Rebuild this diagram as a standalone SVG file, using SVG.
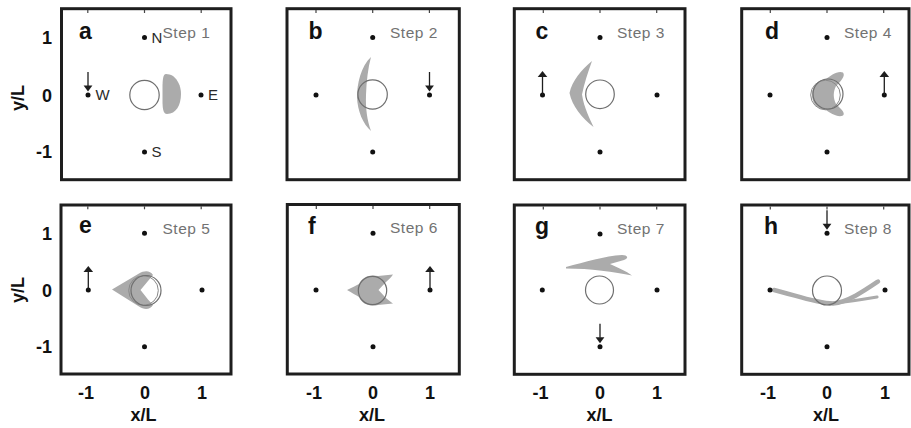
<svg xmlns="http://www.w3.org/2000/svg" width="911" height="428" viewBox="0 0 911 428">
  <style>
    .frame { fill: none; stroke: #1e1e1e; stroke-width: 3; }
    .tick { stroke: #444; stroke-width: 1.2; }
    .dot { fill: #111; }
    .body { fill: #ababab; stroke: none; }
    .band { fill: none; stroke: #ababab; stroke-linecap: round; }
    .ring { fill: none; stroke: #6f6f6f; stroke-width: 1.2; }
    .ring2 { fill: none; stroke: #8a8a8a; stroke-width: 1; }
    .stem { stroke: #1e1e1e; stroke-width: 1.3; }
    .head { fill: #1e1e1e; }
    .letter { font-family: "Liberation Sans", Arial, sans-serif; font-weight: bold; font-size: 23px; fill: #111; }
    .step { font-family: "Liberation Sans", Arial, sans-serif; font-size: 15.5px; letter-spacing: 0.5px; fill: #727272; }
    .compass { font-family: "Liberation Sans", Arial, sans-serif; font-size: 15px; fill: #2a2a2a; }
    .axis { font-family: "Liberation Sans", Arial, sans-serif; font-weight: bold; font-size: 18px; fill: #111; }
  </style>
  <defs>
    <!-- downward arrow landing on a point (origin = point) -->
    <g id="arrow-down">
      <line class="stem" x1="0" y1="-23" x2="0" y2="-9"/>
      <polygon class="head" points="-4.4,-9.5 4.4,-9.5 0,-3.5"/>
    </g>
    <!-- upward arrow leaving a point (origin = point) -->
    <g id="arrow-up">
      <line class="stem" x1="0" y1="0" x2="0" y2="-18"/>
      <polygon class="head" points="-4.8,-18 4.8,-18 0,-24"/>
    </g>
    <!-- inward ticks on top edge at x = -1, 0, 1 -->
    <g id="top-ticks">
      <line class="tick" x1="-56.7" y1="0" x2="-56.7" y2="3"/>
      <line class="tick" x1="0" y1="0" x2="0" y2="3"/>
      <line class="tick" x1="56.7" y1="0" x2="56.7" y2="3"/>
    </g>
  </defs>

  <!-- axis labels -->
  <g id="axes">
    <text class="axis" text-anchor="end" x="52" y="44">1</text>
    <text class="axis" text-anchor="end" x="52" y="101.5">0</text>
    <text class="axis" text-anchor="end" x="52" y="158">-1</text>
    <text class="axis" text-anchor="middle" transform="translate(24 98) rotate(-90)">y/L</text>

    <text class="axis" text-anchor="end" x="52" y="240">1</text>
    <text class="axis" text-anchor="end" x="52" y="296.5">0</text>
    <text class="axis" text-anchor="end" x="52" y="353">-1</text>
    <text class="axis" text-anchor="middle" transform="translate(24 290) rotate(-90)">y/L</text>

    <text class="axis" text-anchor="middle" x="86" y="399">-1</text>
    <text class="axis" text-anchor="middle" x="145" y="399">0</text>
    <text class="axis" text-anchor="middle" x="202" y="399">1</text>
    <text class="axis" text-anchor="middle" x="143.5" y="421">x/L</text>

    <text class="axis" text-anchor="middle" x="314" y="399">-1</text>
    <text class="axis" text-anchor="middle" x="373" y="399">0</text>
    <text class="axis" text-anchor="middle" x="430" y="399">1</text>
    <text class="axis" text-anchor="middle" x="372" y="421">x/L</text>

    <text class="axis" text-anchor="middle" x="540.5" y="399">-1</text>
    <text class="axis" text-anchor="middle" x="600" y="399">0</text>
    <text class="axis" text-anchor="middle" x="657" y="399">1</text>
    <text class="axis" text-anchor="middle" x="599.5" y="421">x/L</text>

    <text class="axis" text-anchor="middle" x="768" y="399">-1</text>
    <text class="axis" text-anchor="middle" x="827" y="399">0</text>
    <text class="axis" text-anchor="middle" x="885" y="399">1</text>
    <text class="axis" text-anchor="middle" x="826" y="421">x/L</text>
  </g>

  <!-- Step 1 -->
  <g id="panel-a">
    <rect class="frame" x="61.5" y="8.7" width="169.5" height="171"/>
    <use href="#top-ticks" x="144.5" y="10"/>
    <path class="body" d="M166 74 C176 74 181 85 181 94 C181 105 176 114 167 114 C163 114 162.5 108 162.5 100 L162.5 88 C162.5 80 163 74 166 74 Z"/>
    <circle class="ring" cx="144.5" cy="95" r="14.7"/>
    <circle class="dot" cx="144.5" cy="37.5" r="2.5"/>
    <circle class="dot" cx="88" cy="95" r="2.5"/>
    <circle class="dot" cx="201" cy="95" r="2.5"/>
    <circle class="dot" cx="144.5" cy="152" r="2.5"/>
    <use href="#arrow-down" x="88" y="95"/>
    <text class="compass" x="151.5" y="42.5">N</text>
    <text class="compass" x="95.5" y="100">W</text>
    <text class="compass" x="208" y="100">E</text>
    <text class="compass" x="151.5" y="157">S</text>
    <text class="letter" x="79" y="38.5">a</text>
    <text class="step" x="162.5" y="37.5">Step 1</text>
  </g>

  <!-- Step 2 -->
  <g id="panel-b">
    <rect class="frame" x="287" y="8.7" width="172.3" height="171"/>
    <use href="#top-ticks" x="372.7" y="10"/>
    <path class="body" d="M371 57 C361 66 357 84 357 97 C357.5 111 363 124 371 131 C367 120 365.5 108 366 95 C366.5 81 368 68 371 57 Z"/>
    <circle class="ring" cx="372.6" cy="94.5" r="14.7"/>
    <circle class="dot" cx="372.7" cy="37.5" r="2.5"/>
    <circle class="dot" cx="316" cy="95" r="2.5"/>
    <circle class="dot" cx="429.5" cy="95" r="2.5"/>
    <circle class="dot" cx="372.7" cy="152" r="2.5"/>
    <use href="#arrow-down" x="429.5" y="95"/>
    <text class="letter" x="308.5" y="39">b</text>
    <text class="step" x="390" y="37.5">Step 2</text>
  </g>

  <!-- Step 3 -->
  <g id="panel-c">
    <rect class="frame" x="514.3" y="8.7" width="170.7" height="171"/>
    <use href="#top-ticks" x="600" y="10"/>
    <path class="body" d="M592 61 C582 69 572 81 569.5 93 C572 106 582 118 593.5 127 C590 119 584 108 582 94.5 C584 84 588 72 592 61 Z"/>
    <circle class="ring" cx="600" cy="94.3" r="14.3"/>
    <circle class="dot" cx="600" cy="37.5" r="2.5"/>
    <circle class="dot" cx="542.5" cy="95" r="2.5"/>
    <circle class="dot" cx="657" cy="95" r="2.5"/>
    <circle class="dot" cx="600" cy="152" r="2.5"/>
    <use href="#arrow-up" x="542.5" y="95"/>
    <text class="letter" x="535.5" y="38.5">c</text>
    <text class="step" x="617" y="37.5">Step 3</text>
  </g>

  <!-- Step 4 -->
  <g id="panel-d">
    <rect class="frame" x="741.7" y="8.7" width="167.3" height="171"/>
    <use href="#top-ticks" x="827" y="10"/>
    <path class="body" d="M843 72.5 C846 76 840 82 836 86 C833 92 833 98 836 104 C840 108 846 113 843 115.5 C838 118 830 113 826 110 C815 109 812 101 812 94.5 C812 86 818 80 826 79 C830 76 838 70 843 72.5 Z"/>
    <circle class="ring2" cx="825.5" cy="95" r="14.8"/>
    <circle class="ring" cx="828" cy="94" r="15"/>
    <circle class="dot" cx="827" cy="37.5" r="2.5"/>
    <circle class="dot" cx="770" cy="95" r="2.5"/>
    <circle class="dot" cx="884.3" cy="95" r="2.5"/>
    <circle class="dot" cx="827" cy="152" r="2.5"/>
    <use href="#arrow-up" x="884.3" y="95"/>
    <text class="letter" x="765" y="39">d</text>
    <text class="step" x="844" y="37.5">Step 4</text>
  </g>

  <!-- Step 5 -->
  <g id="panel-e">
    <rect class="frame" x="61" y="205" width="170" height="169"/>
    <use href="#top-ticks" x="144.5" y="206.3"/>
    <path class="body" d="M112 289.5 L139 273.5 C144 270.5 150 270 153 275 L148 281 L140.5 290 L148 299.5 L153 305 C150 310 144 310 139 306.5 Z"/>
    <circle class="ring2" cx="143.5" cy="290.5" r="14.8"/>
    <circle class="ring" cx="146" cy="290.5" r="15"/>
    <circle class="dot" cx="144.5" cy="233.3" r="2.5"/>
    <circle class="dot" cx="88.3" cy="290" r="2.5"/>
    <circle class="dot" cx="202" cy="290" r="2.5"/>
    <circle class="dot" cx="144.5" cy="346.7" r="2.5"/>
    <use href="#arrow-up" x="88.3" y="290"/>
    <text class="letter" x="79" y="233">e</text>
    <text class="step" x="162.5" y="233.5">Step 5</text>
  </g>

  <!-- Step 6 -->
  <g id="panel-f">
    <rect class="frame" x="287.3" y="204.5" width="172" height="169.5"/>
    <use href="#top-ticks" x="373" y="206"/>
    <path class="body" d="M347 290 C352 287.5 356 285.5 359 284 C362 277 370 274 378 276 L393 274.5 C391 278 387 281 385 283 L378.5 290 L385 297 C387 299 391 302 393 303.5 L378 305 C370 307 362 304 359 297 C356 295 352 293 347 290 Z"/>
    <circle class="ring" cx="372.5" cy="290.5" r="14.2"/>
    <circle class="dot" cx="373" cy="233.3" r="2.5"/>
    <circle class="dot" cx="316" cy="290" r="2.5"/>
    <circle class="dot" cx="430" cy="290" r="2.5"/>
    <circle class="dot" cx="373" cy="346.7" r="2.5"/>
    <use href="#arrow-up" x="430" y="290"/>
    <text class="letter" x="308" y="233.5">f</text>
    <text class="step" x="390" y="233">Step 6</text>
  </g>

  <!-- Step 7 -->
  <g id="panel-g">
    <rect class="frame" x="514.3" y="205" width="170.7" height="169.3"/>
    <use href="#top-ticks" x="600" y="206.5"/>
    <path class="body" d="M566 267 C585 262 605 256 622 255 C628 255 629 258.5 624 260 L610 264 C618 267.5 626 271 632 275.5 C615 272 590 268.5 566 268.5 Z"/>
    <circle class="ring" cx="599.5" cy="290" r="14"/>
    <circle class="dot" cx="600" cy="234" r="2.5"/>
    <circle class="dot" cx="542.3" cy="290" r="2.5"/>
    <circle class="dot" cx="657" cy="290" r="2.5"/>
    <circle class="dot" cx="600" cy="346.7" r="2.5"/>
    <use href="#arrow-down" x="600" y="346.7"/>
    <text class="letter" x="535" y="233.5">g</text>
    <text class="step" x="617" y="233.5">Step 7</text>
  </g>

  <!-- Step 8 -->
  <g id="panel-h">
    <rect class="frame" x="741.7" y="205" width="167.3" height="169.3"/>
    <use href="#top-ticks" x="827" y="206.5"/>
    <path class="band" stroke-width="4.5" d="M774 290 C795 295 815 303 833 303.5 C848 302 864 291 878 281.5"/>
    <path class="band" stroke-width="3.2" d="M836 303 C850 301.5 865 299 877 297"/>
    <circle class="ring" cx="827" cy="290.5" r="14.5"/>
    <circle class="dot" cx="827" cy="233.3" r="2.5"/>
    <circle class="dot" cx="770" cy="290" r="2.5"/>
    <circle class="dot" cx="885" cy="290" r="2.5"/>
    <circle class="dot" cx="827" cy="346.7" r="2.5"/>
    <use href="#arrow-down" x="827" y="233.3"/>
    <text class="letter" x="764" y="233.5">h</text>
    <text class="step" x="844" y="233.5">Step 8</text>
  </g>
</svg>
